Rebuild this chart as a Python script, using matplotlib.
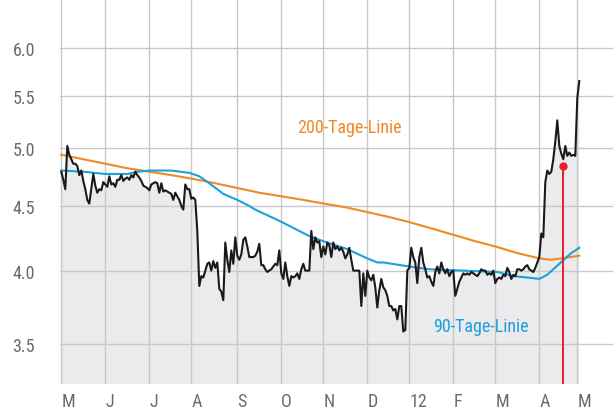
import numpy as np
import matplotlib
matplotlib.use('Agg')
import matplotlib.pyplot as plt
from matplotlib.ticker import FixedLocator, NullLocator, FixedFormatter
from matplotlib import font_manager

# closing prices, one per trading day (May 2011 - May 2012)
price = [
    4.79, 4.72, 4.64, 5.02, 4.94, 4.90, 4.86, 4.86, 4.84, 4.76,
    4.80, 4.71, 4.64, 4.55, 4.52, 4.64, 4.77, 4.67, 4.61, 4.64,
    4.63, 4.70, 4.68, 4.66, 4.75, 4.68, 4.69, 4.66, 4.72, 4.72,
    4.76, 4.71, 4.73, 4.74, 4.72, 4.76, 4.74, 4.79, 4.76, 4.74,
    4.71, 4.67, 4.66, 4.65, 4.63, 4.68, 4.69, 4.70, 4.69, 4.61,
    4.69, 4.62, 4.63, 4.62, 4.61, 4.60, 4.55, 4.61, 4.58, 4.55,
    4.50, 4.47, 4.68, 4.64, 4.64, 4.56, 4.57, 4.55, 4.30, 3.89,
    3.96, 3.95, 4.00, 4.05, 4.06, 4.00, 4.07, 4.02, 4.06, 3.87,
    3.85, 3.79, 4.21, 4.08, 3.99, 4.15, 4.05, 4.25, 4.11, 4.08,
    4.12, 4.23, 4.25, 4.18, 4.10, 4.10, 4.10, 4.11, 4.14, 4.20,
    4.04, 4.04, 4.01, 3.99, 4.00, 4.01, 4.03, 4.05, 4.04, 4.15,
    3.98, 3.94, 4.06, 3.96, 3.89, 3.96, 3.95, 3.96, 3.98, 3.94,
    4.01, 4.05, 4.00, 4.00, 4.00, 4.30, 4.16, 4.25, 4.21, 4.22,
    4.10, 4.18, 4.12, 4.21, 4.19, 4.10, 4.21, 4.16, 4.18, 4.15,
    4.17, 4.14, 4.09, 4.12, 4.17, 4.08, 4.00, 4.00, 4.00, 4.00,
    3.75, 3.98, 3.82, 4.00, 3.95, 3.93, 3.97, 3.88, 3.74, 3.86,
    3.94, 3.88, 3.86, 3.82, 3.75, 3.75, 3.72, 3.73, 3.66, 3.75,
    3.75, 3.58, 3.59, 4.00, 4.02, 4.17, 4.10, 4.06, 3.91, 4.10,
    4.17, 4.06, 4.01, 3.95, 3.96, 3.92, 3.89, 3.99, 4.03, 3.98,
    4.06, 4.01, 3.98, 4.01, 3.96, 3.99, 4.00, 3.82, 3.87, 3.92,
    3.95, 3.98, 3.97, 3.98, 3.97, 3.99, 3.98, 3.97, 3.96, 3.98,
    4.01, 4.00, 4.00, 3.97, 3.98, 3.97, 4.00, 3.91, 3.94, 3.95,
    3.94, 3.97, 3.96, 4.02, 3.99, 3.94, 3.97, 3.96, 4.01, 4.01,
    4.00, 4.01, 4.03, 4.04, 4.01, 4.00, 3.99, 4.02, 4.06, 4.10,
    4.28, 4.25, 4.70, 4.80, 4.77, 4.79, 4.90, 5.06, 5.26, 5.02,
    4.95, 4.90, 5.02, 4.93, 4.96, 4.93, 4.94, 4.93, 5.48, 5.65,
]

# 200-day moving average (read at sample days)
ma200_day = [0, 11, 22, 33, 44, 55, 65, 77, 88, 99, 110, 121, 131, 142,
             153, 164, 174, 185, 196, 207, 217, 228, 239, 245, 250, 259]
ma200 = [4.94, 4.90, 4.86, 4.82, 4.79, 4.76, 4.73, 4.69, 4.65, 4.61, 4.58,
         4.55, 4.52, 4.49, 4.45, 4.41, 4.37, 4.32, 4.27, 4.22, 4.18, 4.13,
         4.09, 4.08, 4.09, 4.11]

# 90-day moving average
ma90_day = [0, 11, 22, 33, 38, 44, 55, 64, 69, 74, 81, 88, 94, 97, 109,
            124, 131, 143, 153, 158, 161, 174, 179, 184, 201, 218, 226, 233,
            239, 243, 249, 255, 259]
ma90 = [4.80, 4.79, 4.77, 4.77, 4.79, 4.80, 4.80, 4.78, 4.75, 4.69, 4.60,
        4.55, 4.50, 4.47, 4.38, 4.26, 4.22, 4.16, 4.09, 4.06, 4.06,
        4.03, 4.02, 4.01, 4.00, 3.99, 3.96, 3.95, 3.94, 3.97, 4.05, 4.13,
        4.17]

month_day = [0, 22, 44, 65, 88, 110, 131, 153, 174, 196, 217, 239, 258]
month_lbl = ['M', 'J', 'J', 'A', 'S', 'O', 'N', 'D', '12', 'F', 'M', 'A', 'M']
yticks = [3.5, 4.0, 4.5, 5.0, 5.5, 6.0]

buy_day = 251
buy_price = 4.84

# pick a narrow face if one is installed
names = set(f.name for f in font_manager.fontManager.ttflist)
narrow = [n for n in ['Liberation Sans Narrow', 'DejaVu Sans Condensed',
                      'Roboto Condensed', 'Open Sans Condensed'] if n in names]
FONT = narrow[:1] + ['DejaVu Sans']
GRAY = '#6b6b6b'

fig = plt.figure(figsize=(6.13, 4.14), dpi=100)
ax = fig.add_axes([60/613, 29/414, 553/613, 385/414])

days = np.arange(len(price))
ax.fill_between(days, price, 1.0, color='#ebebed', lw=0, zorder=0.2)
ax.plot(ma200_day, ma200, color='#f08a24', lw=1.5, zorder=2)
ax.plot(ma90_day, ma90, color='#1ba1dc', lw=1.5, zorder=2.5)
ax.plot(days, price, color='#1a1a1a', lw=1.5, zorder=3)
ax.plot([buy_day, buy_day], [buy_price, 1.0], color='#e8202a', lw=1.4, zorder=4)
ax.plot(buy_day, buy_price, 'o', color='#e8202a', ms=6, mec='none', zorder=5)

ax.set_yscale('log')
ax.set_ylim(3.2535, 6.561)
ax.set_xlim(-0.65, 275.85)

ax.yaxis.set_major_locator(FixedLocator(yticks))
ax.yaxis.set_major_formatter(FixedFormatter(['%.1f' % v for v in yticks]))
ax.yaxis.set_minor_locator(NullLocator())
ax.set_xticks(month_day)
ax.set_xticklabels(month_lbl)
for lab in ax.get_xticklabels():
    lab.set_horizontalalignment('left')

ax.tick_params(length=0, labelcolor=GRAY, labelsize=13)
ax.tick_params(axis='y', pad=18)
ax.tick_params(axis='x', pad=6)
for lab in ax.get_xticklabels() + ax.get_yticklabels():
    lab.set_family(FONT)
    lab.set_stretch('condensed')

ax.set_axisbelow(True)
ax.grid(True, color='#c8c8c8', lw=1.0)
for s in ax.spines.values():
    s.set_visible(False)

ax.text(117.9, 5.196, '200-Tage-Linie', color='#f08a24', fontsize=13,
        family=FONT, stretch='condensed', va='center', ha='left')
ax.text(185.9, 3.617, '90-Tage-Linie', color='#1ba1dc', fontsize=13,
        family=FONT, stretch='condensed', va='center', ha='left')

fig.savefig('out.png', dpi=100)
